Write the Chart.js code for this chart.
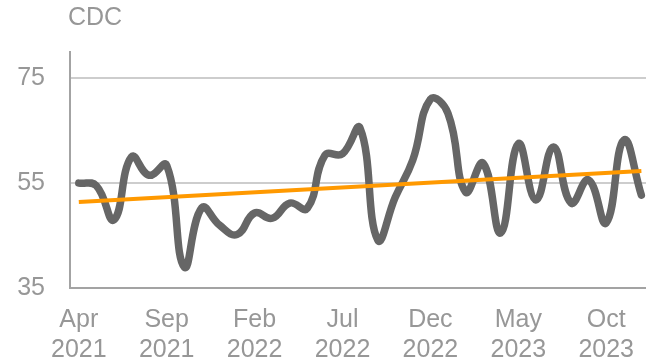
<!DOCTYPE html>
<html>
<head>
<meta charset="utf-8">
<script src="https://cdn.jsdelivr.net/npm/chart.js@4/dist/chart.umd.min.js"></script>
<style>
  html, body { margin: 0; padding: 0; background: #fff; overflow: hidden; }
  #wrap { width: 646px; height: 363px; overflow: hidden; }
</style>
</head>
<body>
<div id="wrap"><canvas id="cdc-chart" width="651" height="363"></canvas></div>
<script>
// monthly CDC readings, Apr 2021 .. Dec 2023
const months = [
  'Apr 2021', 'May 2021', 'Jun 2021', 'Jul 2021', 'Aug 2021', 'Sep 2021',
  'Oct 2021', 'Nov 2021', 'Dec 2021', 'Jan 2022', 'Feb 2022', 'Mar 2022',
  'Apr 2022', 'May 2022', 'Jun 2022', 'Jul 2022', 'Aug 2022', 'Sep 2022',
  'Oct 2022', 'Nov 2022', 'Dec 2022', 'Jan 2023', 'Feb 2023', 'Mar 2023',
  'Apr 2023', 'May 2023', 'Jun 2023', 'Jul 2023', 'Aug 2023', 'Sep 2023',
  'Oct 2023', 'Nov 2023', 'Dec 2023'
];
const cdc = [
  55, 54.5, 48, 60, 56.5, 58.4, 39, 50.3, 47, 45.2, 49.3, 48.3,
  51.2, 50.2, 60.3, 60.6, 65.5, 44.2, 52.3, 59.4, 71, 68.3, 53.3, 58.8,
  45.5, 62.5, 51.8, 61.9, 51.2, 55.6, 47.4, 63.2, 52.7
];
// linear trend, first and last month
const trendStart = 51.4;
const trendEnd = 57.3;
const yTicks = [35, 55, 75];
const labelEvery = 5;

const trend = months.map((m, i) => i === 0 ? trendStart : (i === months.length - 1 ? trendEnd : null));

const textGray = '#979797';
const font = { family: '"Liberation Sans", Arial, sans-serif', size: 25, lineHeight: 1.2 };

// axis title drawn above the y axis
const cornerTitle = {
  id: 'cornerTitle',
  afterDraw(chart) {
    const c = chart.ctx;
    c.save();
    c.fillStyle = textGray;
    c.font = '25px "Liberation Sans", Arial, sans-serif';
    c.textAlign = 'left';
    c.textBaseline = 'alphabetic';
    c.fillText('CDC', chart.chartArea.left - 2, 25);
    c.restore();
  }
};

new Chart(document.getElementById('cdc-chart'), {
  type: 'line',
  data: {
    labels: months,
    datasets: [
      {
        label: 'Trend',
        data: trend,
        borderColor: '#FF9900',
        borderWidth: 4,
        pointRadius: 0,
        spanGaps: true,
        tension: 0,
        order: 0
      },
      {
        label: 'CDC',
        data: cdc,
        borderColor: '#666666',
        borderWidth: 7.5,
        pointRadius: 0,
        tension: 0.45,
        borderCapStyle: 'round',
        borderJoinStyle: 'round',
        order: 1
      }
    ]
  },
  options: {
    responsive: false,
    animation: false,
    layout: { padding: { top: 52, left: 0, right: 0, bottom: 0 } },
    plugins: {
      legend: { display: false },
      tooltip: { enabled: false }
    },
    scales: {
      x: {
        offset: true,
        grid: { display: false, drawTicks: false },
        border: { display: true, color: '#A3A3A3', width: 2 },
        ticks: {
          autoSkip: false,
          maxRotation: 0,
          padding: 17,
          color: textGray,
          font: font,
          callback: (v, i) => i % labelEvery === 0 ? months[i].split(' ') : null
        },
        afterFit: s => { s.height = 75; }
      },
      y: {
        min: 35,
        max: 80,
        afterBuildTicks: s => { s.ticks = yTicks.map(v => ({ value: v })); },
        grid: {
          drawTicks: false,
          lineWidth: 2,
          color: ctx => ctx.tick && ctx.tick.value === 35 ? 'rgba(0,0,0,0)' : '#CDCDCD'
        },
        border: { display: true, color: '#A3A3A3', width: 2 },
        ticks: { padding: 25, color: textGray, font: font },
        afterFit: s => { s.width = 70; }
      }
    }
  },
  plugins: [cornerTitle]
});
</script>
</body>
</html>
